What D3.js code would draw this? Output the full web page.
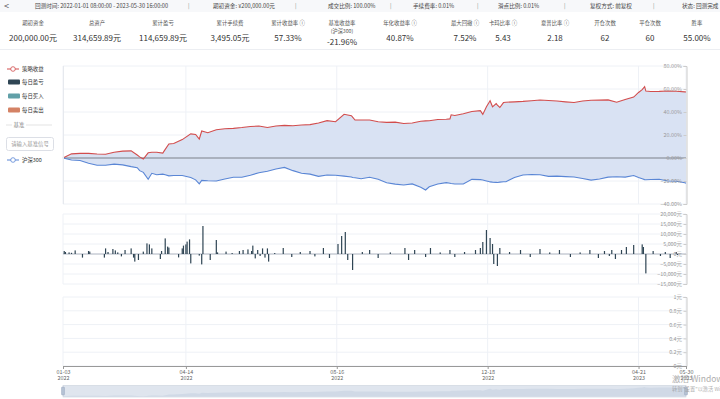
<!DOCTYPE html>
<html>
<head>
<meta charset="utf-8">
<script src="https://cdn.jsdelivr.net/npm/d3@7"></script>
<style>
  body { margin: 0; background: #fff; font-family: "Noto Sans CJK SC", "Noto Sans", sans-serif; }
  svg text { font-family: "Noto Sans CJK SC", "Noto Sans", sans-serif; }
</style>
</head>
<body>
<svg id="main" width="720" height="399"></svg>
<script>
// header info
const infoItems = ["回测时间: 2022-01-01 08:00:00 - 2023-05-30 16:00:00", "期初资金: ¥200,000.00元", "成交比例: 100.00%",
                   "手续费率: 0.01%", "滑点比例: 0.01%", "复权方式: 前复权", "状态: 回测完成"]
const statLabels = ["期初资金", "总资产", "累计盈亏", "累计手续费", "累计收益率 ⓘ", "基准收益率", "年化收益率 ⓘ",
                    "最大回撤 ⓘ", "卡玛比率 ⓘ", "夏普比率 ⓘ", "开仓次数", "平仓次数", "胜率"]
const statValues = ["200,000.00元", "314,659.89元", "114,659.89元", "3,495.05元", "57.33%", "-21.96%", "40.87%",
                    "7.52%", "5.43", "2.18", "62", "60", "55.00%"]
const legendNames = ["策略收益", "每日盈亏", "每日买入", "每日卖出"]
const benchName = "沪深300"

// cumulative return (%), strategy vs benchmark
const dates = ["2022-01-03","2022-01-10","2022-01-17","2022-01-24","2022-01-31","2022-02-07","2022-02-14","2022-02-21",
  "2022-02-28","2022-03-05","2022-03-07","2022-03-10","2022-03-14","2022-03-17","2022-03-21","2022-03-26","2022-03-28",
  "2022-03-31","2022-04-04","2022-04-11","2022-04-18","2022-04-22","2022-04-25","2022-04-27","2022-05-02","2022-05-09",
  "2022-05-16","2022-05-23","2022-05-30","2022-06-06","2022-06-13","2022-06-20","2022-06-27","2022-07-04","2022-07-11",
  "2022-07-18","2022-07-25","2022-08-01","2022-08-08","2022-08-15","2022-08-22","2022-08-28","2022-08-29","2022-08-31",
  "2022-09-05","2022-09-12","2022-09-19","2022-09-26","2022-10-03","2022-10-10","2022-10-17","2022-10-24","2022-10-28",
  "2022-10-31","2022-11-07","2022-11-14","2022-11-17","2022-11-18","2022-11-21","2022-11-28","2022-12-05","2022-12-12",
  "2022-12-14","2022-12-17","2022-12-19","2022-12-20","2022-12-22","2022-12-25","2022-12-26","2022-12-28","2022-12-31",
  "2023-01-02","2023-01-09","2023-01-16","2023-01-23","2023-01-30","2023-02-06","2023-02-13","2023-02-20","2023-02-27",
  "2023-03-06","2023-03-13","2023-03-20","2023-03-27","2023-04-03","2023-04-10","2023-04-17","2023-04-21","2023-04-24",
  "2023-04-26","2023-04-27","2023-05-01","2023-05-08","2023-05-15","2023-05-22","2023-05-29","2023-05-30"]
const strategy = [0,3.6,4,4,3.5,3.2,5,6,
  6.2,2.6,1.0,-0.9,4.5,5,5,4.3,7.5,
  12.2,12.6,16,21,20.5,16.5,23.5,22,24.5,
  25.5,25.8,26.5,27.4,27.8,26.5,27.8,28.4,28,
  28.7,29,30.5,32.5,31.5,38,36.8,35.5,33,
  33,33,31.5,31,31.2,30,30.5,32,32.3,
  32.4,33.5,33.7,34,37.6,37,38.5,40.4,41.2,
  37.9,44.5,48,49.8,44.5,47.4,46,43.9,48.2,
  48.5,48.8,49.2,49.8,50.4,50,49.5,48.8,48.2,
  49.6,50.2,50.3,50.5,48.5,50.8,53,57,59.5,
  62,58.2,57.8,57.9,58.2,58,57.5,57.33]
const benchmark = [0,-1.8,-2.2,-4.5,-6.3,-6.3,-5.3,-6,
  -7.5,-8.4,-11,-12.5,-18.5,-13.3,-14.6,-14,-14.5,
  -15.5,-15.2,-15.2,-17,-19,-22.5,-19.5,-19.8,-20,
  -18.3,-16.8,-16.8,-15,-12.8,-11.5,-9.5,-8.2,-11,
  -13.2,-14,-16,-14.8,-15,-15.8,-16.5,-17,-17.2,
  -18.1,-16.8,-18.5,-21.5,-22.7,-23.5,-22.5,-25.5,-27.8,
  -25,-22.6,-21.4,-22,-22.2,-22.6,-22.6,-18.6,-18.8,
  -19.2,-20,-20.5,-20.8,-21,-21.2,-21.3,-21,-20.7,
  -20.6,-17,-14.8,-14.4,-14.6,-16,-15.8,-16.2,-16.5,
  -17.8,-19.2,-18.2,-16.6,-16.3,-16.6,-15.2,-17,-18,
  -18.8,-18.9,-18.7,-18.5,-20,-20.2,-21.5,-21.96]

// daily profit / loss (元)
const pnlDates = ["2022-01-04","2022-01-05","2022-01-08","2022-01-10","2022-01-13","2022-01-19","2022-01-24","2022-01-25",
  "2022-02-06","2022-02-07","2022-02-09","2022-02-13","2022-02-15","2022-02-17","2022-02-20","2022-02-23","2022-02-28",
  "2022-03-02","2022-03-03","2022-03-06","2022-03-10","2022-03-13","2022-03-15","2022-03-17","2022-03-24","2022-03-25",
  "2022-03-28","2022-03-30","2022-03-31","2022-04-08","2022-04-11","2022-04-12","2022-04-14","2022-04-15","2022-04-17",
  "2022-04-18","2022-04-25","2022-04-27","2022-04-28","2022-05-04","2022-05-09","2022-05-10","2022-05-17","2022-05-22",
  "2022-05-28","2022-05-31","2022-06-04","2022-06-07","2022-06-08","2022-06-10","2022-06-12","2022-06-14","2022-06-16",
  "2022-06-18","2022-06-20","2022-06-21","2022-06-26","2022-07-03","2022-07-10","2022-07-17","2022-07-25","2022-07-29",
  "2022-08-05","2022-08-10","2022-08-17","2022-08-20","2022-08-23","2022-08-25","2022-08-29","2022-09-06","2022-09-12",
  "2022-09-19","2022-09-29","2022-10-11","2022-10-14","2022-10-19","2022-10-28","2022-11-01","2022-11-09","2022-11-17",
  "2022-11-21","2022-11-29","2022-12-08","2022-12-12","2022-12-14","2022-12-17","2022-12-20","2022-12-22","2022-12-23",
  "2022-12-26","2022-12-28","2023-01-05","2023-01-14","2023-01-22","2023-01-30","2023-02-07","2023-02-15","2023-02-24",
  "2023-03-04","2023-03-12","2023-03-19","2023-03-24","2023-03-28","2023-03-30","2023-04-02","2023-04-07","2023-04-11",
  "2023-04-17","2023-04-24","2023-04-25","2023-04-27","2023-05-03","2023-05-09","2023-05-13","2023-05-17","2023-05-22",
  "2023-05-23"]
const pnlValues = [1500,1000,800,600,1800,-1800,1500,1200,
  -1800,2800,1000,2500,1800,800,-1200,2000,2800,
  -1800,-3800,-3000,1200,5300,4800,2800,-2500,1500,
  7800,3700,3200,-1700,2800,4200,4800,6200,7300,
  -4700,-800,-5200,14000,-3000,7000,800,1200,500,
  1500,2000,2300,1500,4200,-2200,2000,-1000,2800,
  -1800,2800,-3800,500,3000,-1500,1000,1500,-1200,
  3000,-2000,5000,9000,11000,-3000,-8000,1000,2000,
  -2000,800,3000,-3000,2000,-1500,3000,800,2000,
  -1500,1000,2000,3000,6000,12000,8000,5000,-5000,
  -6000,3000,1000,2000,-1500,2500,800,2000,-1500,
  800,2000,-2000,1500,-1000,2000,-2500,2000,3500,
  4500,4800,3500,-9700,1500,-1000,1000,-2000,1000,
  -500]

const tickDates = ["2022-01-03","2022-04-14","2022-08-16","2022-12-18","2023-04-21","2023-05-30"]
const pctTicks = [80,60,40,20,0,-20,-40]
const pnlTicks = [20000,15000,10000,5000,0,-5000,-10000,-15000]
const posTicks = [1,0.8,0.6,0.4,0.2,0]

const parse = d3.timeParse("%Y-%m-%d")
const svg = d3.select("#main")
const red = "#d24d4d", blue = "#5a86d5", fillC = "#d9e2f3", grid = "#eef1f6"

// ---------- header ----------
svg.append("rect").attr("x",0).attr("y",0).attr("width",720).attr("height",12).attr("fill","#f7f8fa")
svg.append("text").attr("x",4).attr("y",8.5).attr("font-size",9).attr("fill","#555").text("<")
const infoX = [35, 213, 328, 413, 498, 590, 682]
svg.selectAll(".info").data(infoItems).enter().append("text")
  .attr("x",(d,i)=>infoX[i]).attr("y",8).attr("font-size",5.6).attr("fill","#444").text(d=>d)
svg.selectAll(".sep").data([188,295,390,477,564,653]).enter().append("text")
  .attr("x",d=>d).attr("y",8).attr("font-size",5.6).attr("fill","#888").text("|")

const statX = [33,97,163,230,288,342,400,465,503,555,605,650,697]
svg.selectAll(".slab").data(statLabels).enter().append("text")
  .attr("x",(d,i)=>statX[i]).attr("y",25).attr("text-anchor","middle")
  .attr("font-size",5.4).attr("fill","#555").text(d=>d)
svg.append("text").attr("x",342).attr("y",32.5).attr("text-anchor","middle")
  .attr("font-size",5.2).attr("fill","#555").text("(沪深300)")
svg.selectAll(".sval").data(statValues).enter().append("text")
  .attr("x",(d,i)=>statX[i]).attr("y",(d,i)=> i==5 ? 44.5 : 41).attr("text-anchor","middle")
  .attr("font-size",8).attr("fill","#333").text(d=>d)
svg.append("line").attr("x1",0).attr("x2",720).attr("y1",49.5).attr("y2",49.5).attr("stroke","#eceef2")

// ---------- legend ----------
const legColors = [red, "#2f4554", "#61a0a8", "#d48265"]
const legY = [69, 82, 96, 110]
legendNames.forEach((name,i)=>{
  const g = svg.append("g").attr("transform",`translate(0,${legY[i]})`)
  if (i==0) {
    g.append("line").attr("x1",7).attr("x2",19).attr("stroke",red).attr("stroke-width",1)
    g.append("circle").attr("cx",13).attr("r",2.3).attr("fill","#fff").attr("stroke",red).attr("stroke-width",0.8)
  } else {
    g.append("rect").attr("x",8).attr("y",-2.5).attr("width",12).attr("height",5).attr("rx",1).attr("fill",legColors[i])
  }
  g.append("text").attr("x",22).attr("y",2).attr("font-size",5.4).attr("fill","#333").text(name)
})
svg.append("line").attr("x1",6).attr("x2",12).attr("y1",125).attr("y2",125).attr("stroke","#e3e3e3")
svg.append("line").attr("x1",26).attr("x2",52).attr("y1",125).attr("y2",125).attr("stroke","#e3e3e3")
svg.append("text").attr("x",19).attr("y",127).attr("text-anchor","middle").attr("font-size",5.4).attr("fill","#888").text("基准")
svg.append("rect").attr("x",6.5).attr("y",137.5).attr("width",47).attr("height",13).attr("rx",2)
  .attr("fill","#fff").attr("stroke","#dcdfe6")
svg.append("text").attr("x",30).attr("y",146).attr("text-anchor","middle").attr("font-size",5.4).attr("fill","#999").text("请输入基准信号")
{
  const g = svg.append("g").attr("transform","translate(0,160)")
  g.append("line").attr("x1",7).attr("x2",19).attr("stroke",blue).attr("stroke-width",1)
  g.append("circle").attr("cx",13).attr("r",2.3).attr("fill","#fff").attr("stroke",blue).attr("stroke-width",0.8)
  g.append("text").attr("x",22).attr("y",2).attr("font-size",5.4).attr("fill","#333").text(benchName)
}

// ---------- scales ----------
const x = d3.scaleTime().domain([parse("2022-01-03"), parse("2023-05-30")]).range([63,686])
const yTop = d3.scaleLinear().domain([-40,80]).range([204,66])
const yMid = d3.scaleLinear().domain([-15000,20000]).range([284,214])
const yBot = d3.scaleLinear().domain([0,1]).range([366,297])
const tickD = tickDates.map(parse)

function gridPanel(yScale, ticks, top, bottom) {
  svg.append("g").selectAll("line").data(ticks).enter().append("line")
    .attr("x1",63).attr("x2",686).attr("y1",d=>yScale(d)).attr("y2",d=>yScale(d)).attr("stroke",grid)
  svg.append("g").selectAll("line").data(tickD).enter().append("line")
    .attr("x1",d=>x(d)).attr("x2",d=>x(d)).attr("y1",top).attr("y2",bottom).attr("stroke",grid)
}
gridPanel(yTop, pctTicks, 66, 204)
gridPanel(yMid, pnlTicks, 214, 284)
gridPanel(yBot, posTicks, 297, 366)

function rightAxis(yScale, ticks, fmt) {
  const ax = d3.axisLeft(yScale).tickValues(ticks).tickFormat(fmt).tickSize(3).tickPadding(1.5)
  const g = svg.append("g").attr("transform","translate(686.5,0)").call(ax)
  g.select(".domain").attr("stroke","#ccc")
  g.selectAll(".tick line").attr("stroke","#ccc")
  g.selectAll("text").attr("font-size",5.4).attr("fill","#999")
}

// ---------- top panel ----------
const series = dates.map((d,i)=>({date:parse(d), s:strategy[i], b:benchmark[i]}))
const areaS = d3.area().x(d=>x(d.date)).y0(yTop(0)).y1(d=>yTop(d.s))
const areaB = d3.area().x(d=>x(d.date)).y0(yTop(0)).y1(d=>yTop(d.b))
svg.append("path").datum(series).attr("d",areaS).attr("fill",fillC)
svg.append("path").datum(series).attr("d",areaB).attr("fill",fillC)
svg.append("line").attr("x1",63).attr("x2",686).attr("y1",yTop(0)).attr("y2",yTop(0))
  .attr("stroke","#9aa1ad").attr("stroke-width",1.3)
svg.append("path").datum(series).attr("d",d3.line().x(d=>x(d.date)).y(d=>yTop(d.s)))
  .attr("fill","none").attr("stroke",red).attr("stroke-width",1.1)
svg.append("path").datum(series).attr("d",d3.line().x(d=>x(d.date)).y(d=>yTop(d.b)))
  .attr("fill","none").attr("stroke",blue).attr("stroke-width",1.1)
rightAxis(yTop, pctTicks, d=>d3.format(".2f")(d)+"%")
svg.append("line").attr("x1",63.5).attr("x2",63.5).attr("y1",66).attr("y2",204).attr("stroke","#e6e9ee")

// ---------- middle panel ----------
const bars = pnlDates.map((d,i)=>({date:parse(d), v:pnlValues[i]}))
svg.append("line").attr("x1",63).attr("x2",686).attr("y1",yMid(0)).attr("y2",yMid(0)).attr("stroke","#b4bac4")
svg.append("g").selectAll("rect").data(bars).enter().append("rect")
  .attr("x",d=>x(d.date)-0.6).attr("width",1.2)
  .attr("y",d=>Math.min(yMid(d.v), yMid(0))).attr("height",d=>Math.abs(yMid(d.v)-yMid(0)))
  .attr("fill","#2f4554")
rightAxis(yMid, pnlTicks, d=>d3.format(",")(d)+"元")

// ---------- bottom panel ----------
rightAxis(yBot, posTicks, d=>d+"元")
const xa = d3.axisBottom(x).tickValues(tickD).tickFormat("").tickSize(3)
const xg = svg.append("g").attr("transform",`translate(0,${yBot(0)})`).call(xa)
xg.select(".domain").attr("stroke","#999")
xg.selectAll(".tick line").attr("stroke","#999")
xg.selectAll(".tick").append("text").attr("y",8).attr("text-anchor","middle").attr("font-size",5.4).attr("fill","#666")
  .text(d=>d3.timeFormat("%m-%d")(d))
xg.selectAll(".tick").append("text").attr("y",14).attr("text-anchor","middle").attr("font-size",5.4).attr("fill","#666")
  .text(d=>d3.timeFormat("%Y")(d))

// ---------- data zoom slider ----------
svg.append("rect").attr("x",63).attr("y",385.5).attr("width",623).attr("height",11.5)
  .attr("fill","#dfe5ee").attr("stroke","#c9d1dd").attr("stroke-width",0.6)
const yS = d3.scaleLinear().domain(d3.extent(strategy)).range([396.5,387])
svg.append("path").datum(series).attr("d",d3.area().x(d=>x(d.date)).y0(396.5).y1(d=>yS(d.s)))
  .attr("fill","#d0d9e6")
svg.selectAll(".handle").data([63,686]).enter().append("rect")
  .attr("x",d=>d-1.5).attr("y",387).attr("width",3).attr("height",8).attr("rx",0.8)
  .attr("fill","#b5c2d4").attr("stroke","#8fa0b8").attr("stroke-width",0.4)

// windows watermark
svg.append("text").attr("x",672).attr("y",382).attr("font-size",8.5).attr("fill","#9a9a9a").attr("opacity",0.8).text("激活 Windows")
svg.append("text").attr("x",672).attr("y",391).attr("font-size",5.2).attr("fill","#9a9a9a").attr("opacity",0.8).text("转到\"设置\"以激活 Windows。")
</script>
</body>
</html>
